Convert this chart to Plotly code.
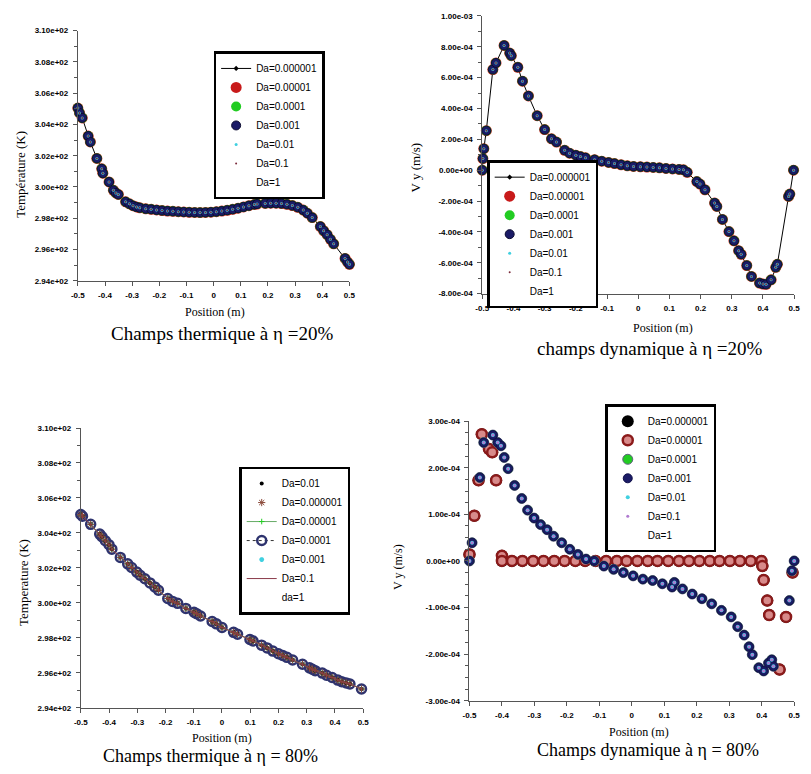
import plotly.graph_objects as go

W, H = 811, 774

# ---------------- data ----------------
# Panel 1: temperature, eta = 20 %
x_t20 = [-0.500, -0.494, -0.484, -0.462, -0.454, -0.430, -0.412, -0.408, -0.385, -0.369,
         -0.360, -0.351, -0.324, -0.310, -0.297, -0.284, -0.272, -0.250, -0.230, -0.210,
         -0.190, -0.170, -0.150, -0.130, -0.110, -0.090, -0.070, -0.050, -0.030, -0.010,
         0.010, 0.030, 0.050, 0.070, 0.090, 0.110, 0.130, 0.150, 0.160, 0.190,
         0.210, 0.230, 0.250, 0.270, 0.290, 0.310, 0.330, 0.345, 0.363, 0.393,
         0.405, 0.418, 0.430, 0.442, 0.484, 0.493, 0.500]
T_t20 = [305.05, 304.74, 304.42, 303.26, 302.88, 301.83, 301.16, 300.88, 300.32, 299.79,
         299.62, 299.52, 299.05, 298.92, 298.80, 298.72, 298.67, 298.60, 298.57, 298.53,
         298.49, 298.46, 298.44, 298.42, 298.40, 298.38, 298.37, 298.36, 298.37, 298.39,
         298.42, 298.46, 298.51, 298.57, 298.64, 298.72, 298.80, 298.88, 298.91, 298.95,
         298.96, 298.96, 298.94, 298.89, 298.81, 298.70, 298.52, 298.32, 298.04, 297.47,
         297.20, 296.95, 296.65, 296.36, 295.43, 295.20, 295.05]

# Panel 2: vertical velocity, eta = 20 %
x_v20 = [-0.500, -0.498, -0.495, -0.487, -0.466, -0.456, -0.430, -0.412, -0.407, -0.386,
         -0.371, -0.352, -0.324, -0.300, -0.278, -0.262, -0.236, -0.220, -0.200, -0.185,
         -0.169, -0.140, -0.117, -0.095, -0.076, -0.055, -0.035, -0.015, 0.007, 0.028,
         0.048, 0.068, 0.089, 0.110, 0.131, 0.145, 0.157, 0.188, 0.198, 0.214,
         0.245, 0.252, 0.270, 0.291, 0.307, 0.322, 0.330, 0.348, 0.363, 0.389,
         0.400, 0.410, 0.426, 0.441, 0.446, 0.482, 0.486, 0.498]
v_v20 = [0.0, 0.75e-4, 1.39e-4, 2.56e-4, 6.52e-4, 6.95e-4, 8.08e-4, 7.59e-4, 7.42e-4, 6.67e-4,
         5.77e-4, 4.81e-4, 3.53e-4, 2.63e-4, 2.03e-4, 1.82e-4, 1.29e-4, 1.10e-4, 0.97e-4, 0.88e-4,
         0.80e-4, 0.68e-4, 0.58e-4, 0.50e-4, 0.43e-4, 0.35e-4, 0.28e-4, 0.24e-4, 0.22e-4, 0.20e-4,
         0.18e-4, 0.15e-4, 0.11e-4, 0.08e-4, 0.05e-4, 0.02e-4, -0.14e-4, -0.74e-4, -0.90e-4, -1.27e-4,
         -2.13e-4, -2.35e-4, -3.19e-4, -3.98e-4, -4.58e-4, -5.22e-4, -5.45e-4, -6.18e-4, -6.89e-4, -7.32e-4,
         -7.38e-4, -7.40e-4, -7.11e-4, -6.30e-4, -6.10e-4, -1.70e-4, -1.55e-4, 0.0]

# Panel 3: temperature, eta = 80 %
x_t80 = [-0.500, -0.494, -0.465, -0.433, -0.425, -0.413, -0.400, -0.390, -0.360, -0.334,
         -0.320, -0.302, -0.290, -0.273, -0.255, -0.238, -0.225, -0.192, -0.175, -0.157,
         -0.128, -0.099, -0.090, -0.076, -0.035, -0.020, 0.000, 0.041, 0.055, 0.099,
         0.110, 0.140, 0.160, 0.180, 0.200, 0.215, 0.230, 0.250, 0.285, 0.310,
         0.320, 0.330, 0.355, 0.370, 0.390, 0.410, 0.424, 0.440, 0.453, 0.494]
T_t80 = [305.05, 304.95, 304.49, 303.93, 303.78, 303.55, 303.32, 303.07, 302.60, 302.23,
         302.02, 301.76, 301.58, 301.38, 301.14, 300.91, 300.72, 300.25, 300.08, 299.97,
         299.68, 299.46, 299.38, 299.25, 298.93, 298.80, 298.59, 298.31, 298.20, 297.90,
         297.82, 297.58, 297.42, 297.24, 297.09, 296.99, 296.88, 296.73, 296.49, 296.28,
         296.20, 296.12, 295.98, 295.86, 295.73, 295.58, 295.49, 295.42, 295.36, 295.07]

# Panel 4: vertical velocity, eta = 80 %  (Da = 0.000001 and 0.00001)
x_v80_low = [-0.500, -0.485, -0.472, -0.462, -0.440, -0.430, -0.418, -0.400, -0.400, -0.369,
             -0.337, -0.304, -0.272, -0.239, -0.207, -0.174, -0.144, -0.112, -0.079, -0.046,
             -0.016, 0.017, 0.049, 0.079, 0.112, 0.145, 0.176, 0.208, 0.240, 0.270,
             0.302, 0.333, 0.366, 0.399, 0.402, 0.406, 0.417, 0.423, 0.455, 0.475,
             0.495]
v_v80_low = [0.14e-4, 0.97e-4, 1.73e-4, 2.72e-4, 2.40e-4, 2.33e-4, 1.73e-4, 0.11e-4, 0.0, 0.0,
             0.0, 0.0, 0.0, 0.0, 0.0, 0.0, 0.0, 0.0, 0.0, 0.0,
             0.0, 0.0, 0.0, 0.0, 0.0, 0.0, 0.0, 0.0, 0.0, 0.0,
             0.0, 0.0, 0.0, 0.0, -0.11e-4, -0.41e-4, -0.85e-4, -1.16e-4, -2.33e-4, -1.20e-4,
             -0.25e-4]

# Panel 4: vertical velocity, eta = 80 %  (Da >= 0.0001)
x_v80_high = [-0.500, -0.492, -0.468, -0.456, -0.428, -0.413, -0.403, -0.393, -0.381, -0.361,
              -0.339, -0.321, -0.301, -0.281, -0.261, -0.241, -0.216, -0.191, -0.166, -0.141,
              -0.116, -0.086, -0.056, -0.026, 0.004, 0.034, 0.064, 0.094, 0.124, 0.131,
              0.156, 0.186, 0.216, 0.246, 0.276, 0.306, 0.326, 0.346, 0.361, 0.371,
              0.391, 0.406, 0.421, 0.431, 0.436, 0.485, 0.493, 0.500]
v_v80_high = [0.0, 0.39e-4, 1.79e-4, 2.54e-4, 2.70e-4, 2.54e-4, 2.47e-4, 2.22e-4, 1.98e-4, 1.62e-4,
              1.34e-4, 1.09e-4, 0.92e-4, 0.78e-4, 0.67e-4, 0.53e-4, 0.39e-4, 0.25e-4, 0.14e-4, 0.04e-4,
              0.0, -0.11e-4, -0.18e-4, -0.25e-4, -0.32e-4, -0.39e-4, -0.42e-4, -0.49e-4, -0.56e-4, -0.46e-4,
              -0.60e-4, -0.71e-4, -0.81e-4, -0.92e-4, -1.06e-4, -1.20e-4, -1.41e-4, -1.59e-4, -1.84e-4, -2.01e-4,
              -2.29e-4, -2.36e-4, -2.19e-4, -2.12e-4, -2.26e-4, -0.85e-4, -0.21e-4, 0.0]

# tick labels
x_tickvals = [-0.5, -0.4, -0.3, -0.2, -0.1, 0, 0.1, 0.2, 0.3, 0.4, 0.5]
x_ticktext = ["-0.5", "-0.4", "-0.3", "-0.2", "-0.1", "0", "0.1", "0.2", "0.3", "0.4", "0.5"]
T_tickvals = [294, 296, 298, 300, 302, 304, 306, 308, 310]
T_ticktext = ["2.94e+02", "2.96e+02", "2.98e+02", "3.00e+02", "3.02e+02",
              "3.04e+02", "3.06e+02", "3.08e+02", "3.10e+02"]
v20_tickvals = [-8e-4, -6e-4, -4e-4, -2e-4, 0, 2e-4, 4e-4, 6e-4, 8e-4, 1e-3]
v20_ticktext = ["-8.00e-04", "-6.00e-04", "-4.00e-04", "-2.00e-04", "0.00e+00",
                "2.00e-04", "4.00e-04", "6.00e-04", "8.00e-04", "1.00e-03"]
v80_tickvals = [-3e-4, -2e-4, -1e-4, 0, 1e-4, 2e-4, 3e-4]
v80_ticktext = ["-3.00e-04", "-2.00e-04", "-1.00e-04", "0.00e+00",
                "1.00e-04", "2.00e-04", "3.00e-04"]

da_labels_a = ["Da=0.000001", "Da=0.00001", "Da=0.0001", "Da=0.001", "Da=0.01", "Da=0.1", "Da=1"]
da_labels_c = ["Da=0.01", "Da=0.000001", "Da=0.00001", "Da=0.0001", "Da=0.001", "Da=0.1", "da=1"]

# ---------------- styles ----------------
NAVY = "#1b1b66"
RED = "#c81a1a"
GREEN = "#22cc22"
CYAN = "#40d0e0"
DKRED = "#7a2a3a"

fig = go.Figure()


def add(x, y, name, rank, ax, legend, mode="markers", marker=None, line=None):
    fig.add_trace(go.Scatter(
        x=x, y=y, name=name, legendrank=rank, mode=mode,
        marker=marker or {}, line=line or {},
        xaxis="x" + ax, yaxis="y" + ax, legend=legend, cliponaxis=False))


def panel_ab(x, y, ax, legend):
    add(x, y, da_labels_a[0], 1, ax, legend, mode="lines+markers",
        marker=dict(symbol="diamond", size=4, color="black"),
        line=dict(color="black", width=1))
    add(x, y, da_labels_a[1], 2, ax, legend, marker=dict(size=11, color=RED))
    add(x, y, da_labels_a[2], 3, ax, legend, marker=dict(size=10, color=GREEN))
    add(x, y, da_labels_a[3], 4, ax, legend,
        marker=dict(size=9, color=NAVY, line=dict(color="#0c0c30", width=1)))
    add(x, y, da_labels_a[4], 5, ax, legend, marker=dict(size=3, color=CYAN))
    add(x, y, da_labels_a[5], 6, ax, legend, marker=dict(size=2, color=DKRED))
    add(x, y, da_labels_a[6], 7, ax, legend, mode="lines", line=dict(width=0, color="white"))


panel_ab(x_t20, T_t20, "", "legend")
panel_ab(x_v20, v_v20, "2", "legend2")

# Panel 3
add(x_t80, T_t80, da_labels_c[4], 5, "3", "legend3",
    marker=dict(symbol="asterisk-open", size=4, color=CYAN, line=dict(color=CYAN, width=1.5)))
add(x_t80, T_t80, da_labels_c[3], 4, "3", "legend3", mode="lines+markers",
    marker=dict(symbol="circle-open", size=9, color="#2e336e", line=dict(width=2.5)),
    line=dict(color="#333333", width=1, dash="dot"))
add(x_t80, T_t80, da_labels_c[2], 3, "3", "legend3", mode="lines+markers",
    marker=dict(symbol="cross-thin", size=4, color=GREEN, line=dict(color=GREEN, width=1)),
    line=dict(color="#66aa66", width=1))
add(x_t80, T_t80, da_labels_c[0], 1, "3", "legend3", marker=dict(size=4, color="black"))
add(x_t80, T_t80, da_labels_c[1], 2, "3", "legend3",
    marker=dict(symbol="asterisk-open", size=6, color="#8b4a3a", line=dict(color="#8b4a3a", width=1)))
add(x_t80, T_t80, da_labels_c[5], 6, "3", "legend3", mode="lines",
    line=dict(color="#8a3a4a", width=1))
add(x_t80, T_t80, da_labels_c[6], 7, "3", "legend3", mode="lines", line=dict(width=0, color="white"))

# Panel 4
add(x_v80_low, v_v80_low, da_labels_a[0], 1, "4", "legend4", marker=dict(size=12, color="black"))
add(x_v80_low, v_v80_low, da_labels_a[1], 2, "4", "legend4",
    marker=dict(size=10, color="#d88a8a", line=dict(color="#8b1a1a", width=2.5)))
add(x_v80_high, v_v80_high, da_labels_a[2], 3, "4", "legend4",
    marker=dict(size=10, color=GREEN, line=dict(color="#606080", width=1)))
add(x_v80_high, v_v80_high, da_labels_a[3], 4, "4", "legend4",
    marker=dict(size=9, color=NAVY, line=dict(color="#10104a", width=1)))
add(x_v80_high, v_v80_high, da_labels_a[4], 5, "4", "legend4", marker=dict(size=4, color=CYAN))
add(x_v80_high, v_v80_high, da_labels_a[5], 6, "4", "legend4", marker=dict(size=3, color="#b07ad0"))
add(x_v80_high, v_v80_high, da_labels_a[6], 7, "4", "legend4", mode="lines",
    line=dict(width=0, color="white"))

# ---------------- layout ----------------
AX = "#555555"
tickfont = dict(family="Liberation Sans, Arial", size=8, color="black", weight="bold")


def xax(x0, x1, anchor):
    return dict(domain=[x0 / W, x1 / W], anchor=anchor, range=[-0.5, 0.5],
                tickmode="array", tickvals=x_tickvals, ticktext=x_ticktext,
                showline=True, linecolor=AX, linewidth=1, ticks="outside", ticklen=4,
                tickcolor=AX, showgrid=False, zeroline=False, tickfont=tickfont,
                ticklabelstandoff=3)


def yax(y0, y1, anchor, rng, tv, tt, mdt):
    return dict(domain=[1 - y1 / H, 1 - y0 / H], anchor=anchor, range=rng,
                tickmode="array", tickvals=tv, ticktext=tt,
                showline=True, linecolor=AX, linewidth=1, ticks="outside", ticklen=4,
                tickcolor=AX, showgrid=False, zeroline=False, tickfont=tickfont,
                ticklabelstandoff=3,
                minor=dict(tickmode="linear", tick0=rng[0], dtick=mdt, ticks="outside",
                           ticklen=3, tickcolor=AX, showgrid=False))


def legend_box(x, y):
    return dict(x=x / W, y=1 - y / H, xanchor="left", yanchor="top",
                bgcolor="white", bordercolor="black", borderwidth=2.5,
                font=dict(family="Liberation Sans, Arial", size=10, color="black"),
                itemwidth=30, tracegroupgap=0)


def ann(text, px, py, size, angle=0):
    return dict(text=text, x=px / W, y=1 - py / H, xref="paper", yref="paper",
                showarrow=False, textangle=angle, xanchor="center", yanchor="middle",
                font=dict(family="Liberation Serif, Times New Roman", size=size, color="black"))


fig.update_layout(
    width=W, height=H, autosize=False,
    margin=dict(l=0, r=0, t=0, b=0),
    paper_bgcolor="white", plot_bgcolor="white",
    showlegend=True,
    xaxis=xax(72, 348, "y"),
    yaxis=yax(27, 280, "x", [294, 310], T_tickvals, T_ticktext, 1),
    xaxis2=xax(483, 800, "y2"),
    yaxis2=yax(12, 293, "x2", [-8e-4, 1e-3], v20_tickvals, v20_ticktext, 1e-4),
    xaxis3=xax(75, 362, "y3"),
    yaxis3=yax(429, 712, "x3", [294, 310], T_tickvals, T_ticktext, 1),
    xaxis4=xax(470, 800, "y4"),
    yaxis4=yax(422, 705, "x4", [-3e-4, 3e-4], v80_tickvals, v80_ticktext, 0.25e-4),
    legend=legend_box(210, 48),
    legend2=legend_box(488, 158),
    legend3=legend_box(236, 468),
    legend4=legend_box(608, 405),
    annotations=[
        ann("Température (K)", 13, 172, 13, -90),
        ann("Position (m)", 211, 312, 12),
        ann("Champs thermique à η =20%", 218, 333, 19),
        ann("V y (m/s)", 415, 165, 13, -90),
        ann("Position (m)", 667, 328, 12),
        ann("champs dynamique à η =20%", 653, 349, 19),
        ann("Temperature (K)", 16, 585, 13, -90),
        ann("Position (m)", 218, 743, 12),
        ann("Champs thermique à η = 80%", 207, 761, 18),
        ann("V y (m/s)", 398, 570, 12, -90),
        ann("Position (m)", 642, 737, 12),
        ann("Champs dynamique à η = 80%", 651, 755, 18),
    ],
)

fig.write_html("out.html", config={"displayModeBar": False},
               post_script="document.body.style.margin='0';")
